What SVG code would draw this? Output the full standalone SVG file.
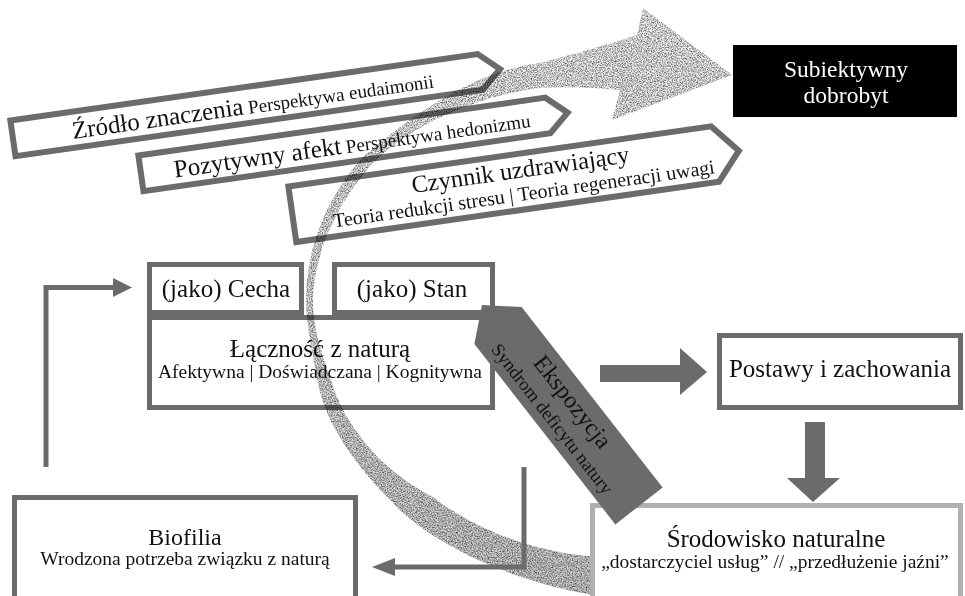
<svg xmlns="http://www.w3.org/2000/svg" width="965" height="596" viewBox="0 0 965 596">
<defs>
<style>
.box{fill:#fff;stroke:#6b6b6b;stroke-width:5}
.hex{fill:#fff;stroke:#6b6b6b;stroke-width:6;stroke-linejoin:miter}
.t{font-family:"Liberation Serif","Times New Roman",serif;fill:#111;text-anchor:middle}
.big{font-size:25px}
.sm{font-size:19.5px}
.line{fill:none;stroke:#6b6b6b;stroke-width:5}
.solid{fill:#6b6b6b}
</style>
<linearGradient id="bandShade" gradientUnits="userSpaceOnUse" x1="0" y1="0" x2="0" y2="596">
<stop offset="0" stop-color="#f8f8f8"/>
<stop offset="1" stop-color="#cfcfcf"/>
</linearGradient>
<filter id="grain" color-interpolation-filters="sRGB" x="0" y="0" width="1" height="1">
<feTurbulence type="fractalNoise" baseFrequency="0.8" numOctaves="2" seed="7" result="noise"/>
<feColorMatrix in="noise" type="matrix" values="1.4 0 0 0 0.1  1.4 0 0 0 0.1  1.4 0 0 0 0.1  0 0 0 0 1" result="g"/>
<feBlend in="g" in2="SourceGraphic" mode="multiply" result="b"/>
<feComposite in="b" in2="SourceGraphic" operator="in"/>
</filter>
<clipPath id="bandClip"><rect x="0" y="0" width="590" height="596"/><rect x="0" y="0" width="965" height="503"/></clipPath>
</defs>
<rect width="965" height="596" fill="#fff"/>

<g id="zrodlo" transform="translate(7,118) rotate(-8.1)">
<polygon class="hex" points="3,3 475,3 495,21 475,39 3,39"/>
<text class="t" x="245" y="30"><tspan font-size="25">Źródło znaczenia</tspan><tspan font-size="19"> Perspektywa eudaimonii</tspan></text>
</g>
<g id="afekt" transform="translate(135,153) rotate(-8.1)">
<polygon class="hex" points="3,3 414,3 434,21 414,39 3,39"/>
<text class="t" x="216" y="30"><tspan font-size="25">Pozytywny afekt</tspan><tspan font-size="19"> Perspektywa hedonizmu</tspan></text>
</g>
<g id="czynnik" transform="translate(285,184) rotate(-8.1)">
<polygon class="hex" points="3,3 430,3 454,31 430,59 3,59"/>
<text class="t" x="235" y="27" font-size="24.5">Czynnik uzdrawiający</text>
<text class="t" x="235" y="50" font-size="20">Teoria redukcji stresu | Teoria regeneracji uwagi</text>
</g>

<g id="dobrobyt">
<rect x="733" y="45" width="224" height="72" fill="#000"/>
<text class="t" x="846" y="77" font-size="23.5" style="fill:#fff">Subiektywny</text>
<text class="t" x="846" y="103" font-size="23.5" style="fill:#fff">dobrobyt</text>
</g>

<g id="cecha">
<rect class="box" x="149.5" y="264.5" width="152" height="48"/>
<text class="t big" x="226" y="297">(jako) Cecha</text>
</g>
<g id="stan">
<rect class="box" x="334.5" y="264.5" width="158" height="48"/>
<text class="t big" x="412" y="297">(jako) Stan</text>
</g>
<g id="lacznosc">
<rect class="box" x="149.5" y="317.5" width="343" height="90"/>
<text class="t big" x="320" y="357">Łączność z naturą</text>
<text class="t sm" x="320" y="378">Afektywna | Doświadczana | Kognitywna</text>
</g>
<g id="postawy">
<rect class="box" x="719.5" y="335.5" width="241" height="72"/>
<text class="t big" x="840" y="377">Postawy i zachowania</text>
</g>
<g id="biofilia">
<rect class="box" x="14.5" y="497.5" width="341" height="110"/>
<text class="t" x="185" y="545" font-size="24">Biofilia</text>
<text class="t sm" x="185" y="565">Wrodzona potrzeba związku z naturą</text>
</g>
<g id="srodowisko">
<rect x="592.5" y="505.5" width="368" height="110" fill="#fff" stroke="#b0b0b0" stroke-width="5"/>
<text class="t big" x="776" y="547">Środowisko naturalne</text>
<text class="t sm" x="775" y="568">„dostarczyciel usług” // „przedłużenie jaźni”</text>
</g>

<g id="connectors">
<path id="band" clip-path="url(#bandClip)" filter="url(#grain)" style="mix-blend-mode:multiply" fill="url(#bandShade)" d="M600,596 C520,585 430,545 390,500 C360,470 325,425 318,383 C313,355 306,325 306,300 C306,250 326,197 363,157 C420,108 480,70 540,63 Q590,50 637,35 L643,8 L732,75 L612,120 L620,90 Q580,86 540,88 C480,95 410,125 372,164 C340,200 314,250 313,300 C313,330 324,360 332,383 C345,425 380,470 433,497 C465,522 525,553 600,557 Z"/>
<path class="line" d="M46,467 V287.5 H114"/>
<polygon class="solid" points="113,278 132,287.5 113,297"/>
<path class="line" d="M524,467 V567 H394"/>
<polygon class="solid" points="395,558 372,567 395,576"/>
<polygon class="solid" points="600,365 680,365 680,348 707,372 680,395 680,382 600,382"/>
<polygon class="solid" points="805,422 825,422 825,478 840,478 813,502 787,478 805,478"/>
<g id="ekspozycja" transform="translate(482,305) rotate(52)">
<polygon class="solid" points="0,0 26,-30 255,-30 255,30 26,30"/>
<text class="t" x="132" y="-4" font-size="24">Ekspozycja</text>
<text class="t" x="133" y="21" font-size="18.5">Syndrom deficytu natury</text>
</g>
</g>
</svg>
